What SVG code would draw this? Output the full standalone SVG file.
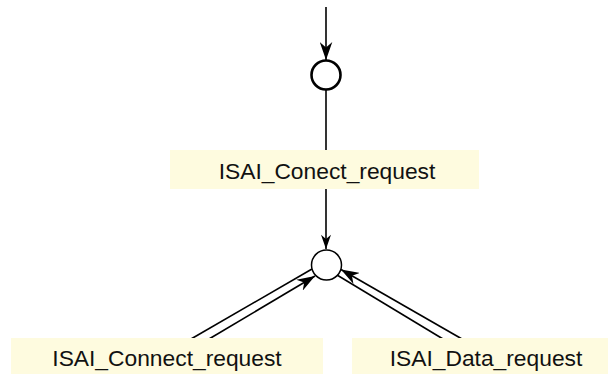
<svg xmlns="http://www.w3.org/2000/svg" width="608" height="374" viewBox="0 0 608 374">
  <style>
    .label-box { fill: #fefbdf; stroke: none; }
    .label { font-family: "Liberation Sans", Arial, sans-serif; font-size: 22.8px; fill: #111; text-anchor: middle; }
    .edge { stroke: #000; fill: none; stroke-width: 1.6; }
    .state { fill: #fff; stroke: #000; }
  </style>
  <defs>
    <marker id="arrow" viewBox="0 0 20 14" refX="20" refY="7" markerWidth="18" markerHeight="13" markerUnits="userSpaceOnUse" orient="auto">
      <path d="M0,0 L20,7 L0,14 L6,7 Z" fill="#000"/>
    </marker>
    <marker id="arrow-small" viewBox="0 0 20 14" refX="20" refY="7" markerWidth="15" markerHeight="10" markerUnits="userSpaceOnUse" orient="auto">
      <path d="M0,0 L20,7 L0,14 L6,7 Z" fill="#000"/>
    </marker>
  </defs>

  <!-- connectors -->
  <g id="connectors">
    <line class="edge" x1="326" y1="7" x2="326" y2="60" stroke-width="2" marker-end="url(#arrow)"/>
    <line class="edge" x1="326" y1="90" x2="326" y2="150"/>
    <line class="edge" x1="326" y1="189" x2="326" y2="249" marker-end="url(#arrow-small)"/>
    <!-- pair from ISAI_Connect_request -->
    <line class="edge" x1="191" y1="339" x2="312" y2="269"/>
    <line class="edge" x1="209" y1="339" x2="315" y2="276" marker-end="url(#arrow)"/>
    <!-- pair from ISAI_Data_request -->
    <line class="edge" x1="443" y1="339" x2="337" y2="275"/>
    <line class="edge" x1="462" y1="339" x2="341" y2="269.5" marker-end="url(#arrow)"/>
  </g>

  <g id="start-state">
    <circle class="state" cx="326" cy="75" r="14.5" stroke-width="2.6"/>
  </g>

  <g id="junction">
    <circle class="state" cx="326.5" cy="265" r="15" stroke-width="1.5"/>
  </g>

  <g id="conect-request">
    <rect class="label-box" x="170" y="150" width="309" height="39"/>
    <text class="label" x="327" y="179">ISAI_Conect_request</text>
  </g>

  <g id="connect-request">
    <rect class="label-box" x="11" y="338" width="312" height="36"/>
    <text class="label" x="167" y="366">ISAI_Connect_request</text>
  </g>

  <g id="data-request">
    <rect class="label-box" x="352" y="338" width="256" height="36"/>
    <text class="label" x="486" y="366">ISAI_Data_request</text>
  </g>
</svg>
